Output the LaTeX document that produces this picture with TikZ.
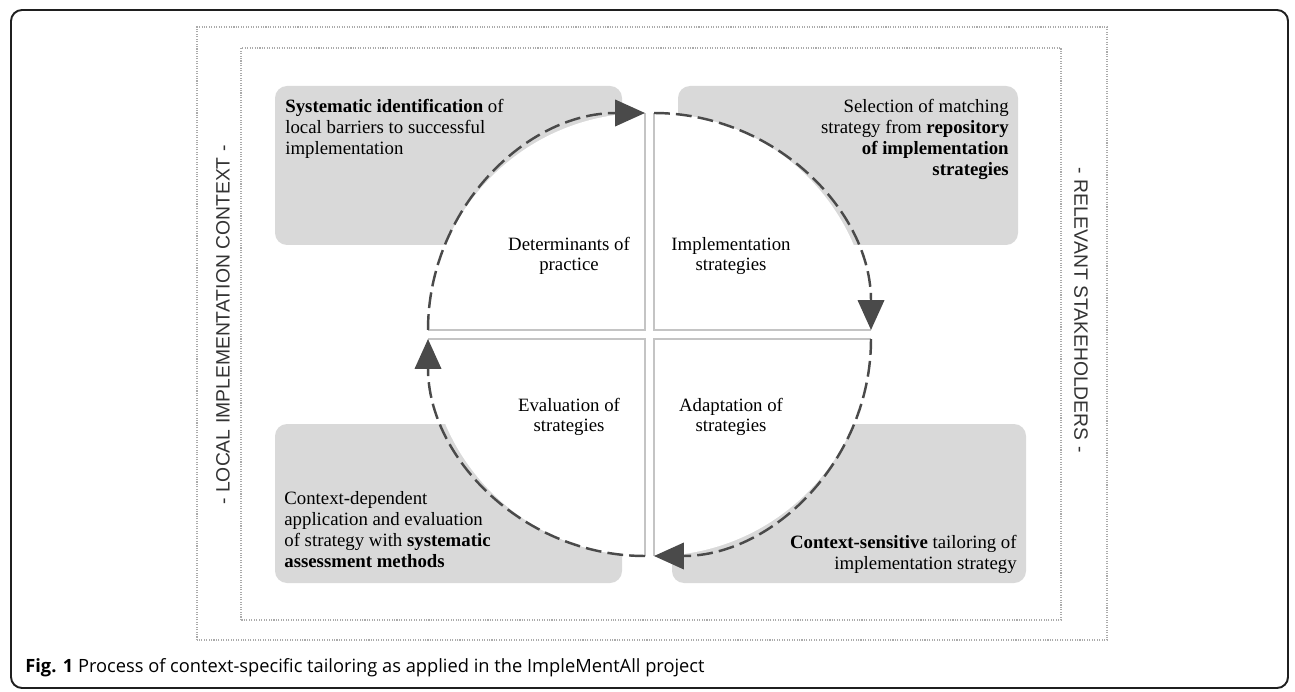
\documentclass[tikz,border=0pt]{standalone}
\usepackage{fontspec}
\setmainfont{Liberation Serif}
\newfontfamily\sidefont{Liberation Sans}
\newfontfamily\capfont{Open Sans}
\usetikzlibrary{arrows.meta}
\definecolor{boxgray}{HTML}{D9D9D9}
\definecolor{arcgray}{HTML}{4A4A4A}
\definecolor{dotgray}{HTML}{ABABAB}
\definecolor{edgegray}{HTML}{C4C4C4}
\begin{document}
\begin{tikzpicture}[
  graybox/.style={fill=boxgray,rounded corners=0.24cm},
  boxtext/.style={inner sep=0pt,font=\fontsize{10.7}{11.9}\selectfont},
  quadtext/.style={align=center,inner sep=0pt,font=\fontsize{10.7}{11.2}\selectfont},
  cyclearc/.style={arcgray,line width=1.4pt,dash pattern=on 9pt off 3.5pt,-{Triangle[length=17pt,width=15pt]}},
  dotframe/.style={dotgray,line width=0.6pt,dash pattern=on 0.6pt off 0.8pt},
  sidetext/.style={font=\sidefont\fontsize{11}{13}\selectfont,text=black!80}]
\useasboundingbox (0,0) rectangle (25.9,13.82);
% frames
\draw[line width=1.1pt,black!88,rounded corners=0.22cm] (0.22,0.06) rectangle (25.76,13.62);
\draw[dotframe] (3.94,1.02) rectangle (22.14,13.28);
\draw[dotframe] (4.82,1.42) rectangle (21.22,12.86);
\node[sidetext,rotate=90] (context) at (4.46,7.32) {- LOCAL IMPLEMENTATION CONTEXT -};
\node[sidetext,rotate=-90] (stakeholders) at (21.62,7.62) {- RELEVANT STAKEHOLDERS -};
% gray boxes
\fill[graybox] (5.50,8.92) rectangle (12.44,12.10);
\fill[graybox] (13.56,8.92) rectangle (20.36,12.10);
\fill[graybox] (5.50,2.16) rectangle (12.44,5.34);
\fill[graybox] (13.44,2.16) rectangle (20.52,5.34);
% quarter discs
\coordinate (C1) at (12.90,7.22);
\coordinate (C2) at (13.08,7.22);
\coordinate (C3) at (13.08,7.04);
\coordinate (C4) at (12.90,7.04);
\coordinate (W1) at (8.56,7.22);
\coordinate (N1) at (12.90,11.56);
\coordinate (N2) at (13.08,11.56);
\coordinate (E1) at (17.42,7.22);
\coordinate (E2) at (17.42,7.04);
\coordinate (S1) at (13.08,2.70);
\coordinate (S2) at (12.90,2.70);
\coordinate (W2) at (8.56,7.04);
\fill[white] (C1) -- (W1) arc[start angle=180,end angle=90,radius=4.34] -- cycle;
\fill[white] (C2) -- (N2) arc[start angle=90,end angle=0,radius=4.34] -- cycle;
\fill[white] (C3) -- (E2) arc[start angle=0,end angle=-90,radius=4.34] -- cycle;
\fill[white] (C4) -- (S2) arc[start angle=-90,end angle=-180,radius=4.34] -- cycle;
\draw[edgegray,line width=0.8pt] (W1) -- (C1) -- (N1);
\draw[edgegray,line width=0.8pt] (N2) -- (C2) -- (E1);
\draw[edgegray,line width=0.8pt] (E2) -- (C3) -- (S1);
\draw[edgegray,line width=0.8pt] (S2) -- (C4) -- (W2);
% cycle arrows
\draw[cyclearc] (W1) arc[start angle=180,end angle=90,radius=4.34];
\draw[cyclearc] (N2) arc[start angle=90,end angle=0,radius=4.34];
\draw[cyclearc] (E2) arc[start angle=0,end angle=-90,radius=4.34];
\draw[cyclearc] (S2) arc[start angle=-90,end angle=-180,radius=4.34];
% quadrant labels
\node[quadtext] (determinants) at (11.38,8.70) {Determinants of\\practice};
\node[quadtext] (strategies) at (14.62,8.70) {Implementation\\strategies};
\node[quadtext] (evaluation) at (11.38,5.48) {Evaluation of\\strategies};
\node[quadtext] (adaptation) at (14.62,5.48) {Adaptation of\\strategies};
% box texts
\node[boxtext,anchor=north west,align=left] (identification) at (5.70,11.84)
  {\textbf{Systematic identification} of\\local barriers to successful\\implementation};
\node[boxtext,anchor=north east,align=right] (selection) at (20.18,11.84)
  {Selection of matching\\strategy from \textbf{repository}\\\textbf{of implementation}\\\textbf{strategies}};
\node[boxtext,anchor=south west,align=left] (application) at (5.68,2.46)
  {Context-dependent\\application and evaluation\\of strategy with \textbf{systematic}\\\textbf{assessment methods}};
\node[boxtext,anchor=south east,align=right] (tailoring) at (20.34,2.34)
  {\textbf{Context-sensitive} tailoring of\\implementation strategy};
% caption
\node[anchor=base west,inner sep=0pt,font=\capfont\fontsize{10.4}{12}\selectfont] (caption) at (0.50,0.38)
  {\textbf{Fig. 1} Process of context-specific tailoring as applied in the ImpleMentAll project};
\end{tikzpicture}
\end{document}
